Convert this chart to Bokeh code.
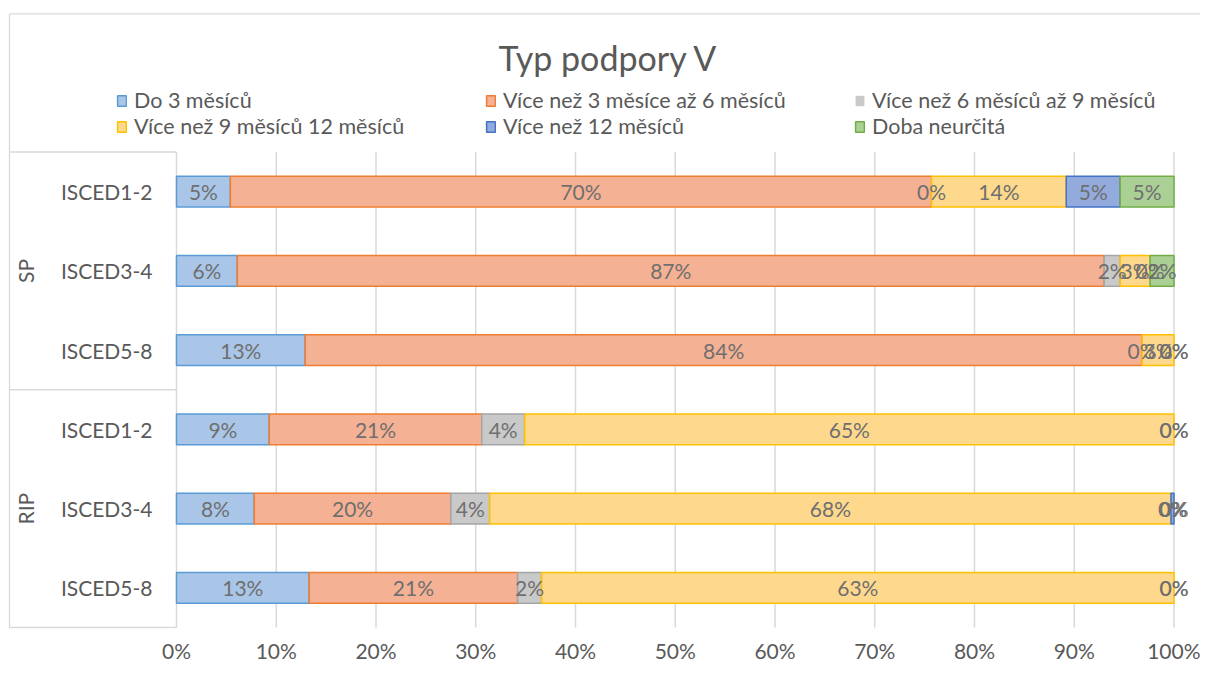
from bokeh.plotting import figure
from bokeh.models import Range1d, FixedTicker, Legend, LegendItem, ColumnDataSource, Label
from bokeh.core.properties import value
from bokeh.embed import file_html
from bokeh.resources import INLINE
import math

# ---------------- data ----------------
chart_title = "Typ podpory V"
groups = ["SP", "SP", "SP", "RIP", "RIP", "RIP"]
levels = ["ISCED1-2", "ISCED3-4", "ISCED5-8", "ISCED1-2", "ISCED3-4", "ISCED5-8"]
series_names = [
    "Do 3 měsíců",
    "Více než 3 měsíce až 6 měsíců",
    "Více než 6 měsíců až 9 měsíců",
    "Více než 9 měsíců 12 měsíců",
    "Více než 12 měsíců",
    "Doba neurčitá",
]
do_3 = [5.4, 6.1, 12.9, 9.3, 7.8, 13.3]
m3_6 = [70.3, 86.9, 83.9, 21.3, 19.7, 20.9]
m6_9 = [0.0, 1.6, 0.0, 4.3, 3.9, 2.4]
m9_12 = [13.5, 3.0, 3.2, 65.1, 68.3, 63.4]
nad_12 = [5.4, 0.0, 0.0, 0.0, 0.3, 0.0]
neurcita = [5.4, 2.4, 0.0, 0.0, 0.0, 0.0]
x_ticks = [0, 10, 20, 30, 40, 50, 60, 70, 80, 90, 100]
x_tick_labels = ["0%", "10%", "20%", "30%", "40%", "50%", "60%", "70%", "80%", "90%", "100%"]

series_values = [do_3, m3_6, m6_9, m9_12, nad_12, neurcita]

# ---------------- style ----------------
FONT = "Lato"
TXT = "#595959"
LBL = "#6f6f6f"
GRID = "#d9d9d9"
fills = ["#a9c6e8", "#f5b193", "#c9c9c9", "#fed88c", "#93aadc", "#abd096"]
lines = ["#5b9bd5", "#ed7d31", "#a5a5a5", "#ffc000", "#4472c4", "#70ad47"]

W, H = 1200, 665
BOTTOM = 35
FRAME_BOTTOM = H - BOTTOM

# pixel geometry helpers (layout only)
PX0, PXU = 176.0, 9.975
PY0, PYU = 629.0, 79.5
def dx(px):
    return (px - PX0) / PXU
def dy(py):
    return (PY0 - py) / PYU

n_rows = len(levels)
ys = [n_rows - 0.5 - i for i in range(n_rows)]

p = figure(width=W, height=H, output_backend="svg", toolbar_location=None,
           x_range=Range1d(dx(0), dx(W)), y_range=Range1d(dy(FRAME_BOTTOM), dy(0)),
           y_axis_location=None,
           min_border_left=0, min_border_right=0, min_border_top=0, min_border_bottom=BOTTOM)
p.outline_line_color = None
p.xgrid.visible = False
p.ygrid.visible = False
p.background_fill_color = "white"
p.border_fill_color = "white"

# x axis
ax = p.xaxis[0]
ax.ticker = FixedTicker(ticks=x_ticks)
ax.major_label_overrides = {t: l for t, l in zip(x_ticks, x_tick_labels)}
ax.axis_line_color = None
ax.major_tick_line_color = None
ax.minor_tick_line_color = None
ax.major_tick_out = 0
ax.major_tick_in = 0
ax.major_label_standoff = 9
ax.major_label_text_font = FONT
ax.major_label_text_font_size = "21px"
ax.major_label_text_color = TXT

# grid lines (value axis)
p.segment(x0=x_ticks, x1=x_ticks, y0=[0] * len(x_ticks), y1=[n_rows] * len(x_ticks),
          line_color=GRID, line_width=1.5)

# category box lines
xl = dx(9)
p.segment(x0=[xl] * 3, x1=[0] * 3, y0=[0, n_rows / 2, n_rows], y1=[0, n_rows / 2, n_rows],
          line_color=GRID, line_width=1.5)
# outer chart border (left / top)
p.segment(x0=[xl, xl], x1=[xl, dx(W + 5)], y0=[dy(H + 5), dy(13.5)], y1=[dy(13.5), dy(13.5)],
          line_color=GRID, line_width=1.3)

# stacked bars
left = [0.0] * n_rows
renderers = []
label_x, label_y, label_t = [], [], []
for k, vals in enumerate(series_values):
    right = [l + v for l, v in zip(left, vals)]
    src = ColumnDataSource(dict(y=ys, left=left, right=right,
                                la=[1.0 if v > 0 else 0.0 for v in vals]))
    r = p.hbar(y="y", left="left", right="right", height=0.39, source=src,
               fill_color=fills[k], line_color=lines[k], line_width=1.5, line_alpha="la")
    renderers.append(r)
    for i, v in enumerate(vals):
        label_x.append(left[i] + v / 2)
        label_y.append(ys[i])
        label_t.append(f"{round(v)}%")
    left = right

p.text(x=label_x, y=label_y, text=label_t, text_align="center", text_baseline="middle",
       text_font=value(FONT), text_font_size="21px", text_color=LBL)

# category labels
p.text(x=[dx(152)] * n_rows, y=ys, text=levels, text_align="right", text_baseline="middle",
       text_font=value(FONT), text_font_size="21px", text_color=TXT)
uniq = []
for g in groups:
    if g not in uniq:
        uniq.append(g)
gy = [sum(y for y, g in zip(ys, groups) if g == u) / groups.count(u) for u in uniq]
p.text(x=[dx(25)] * len(uniq), y=gy, text=uniq, angle=math.pi / 2, text_align="center",
       text_baseline="middle", text_font=value(FONT), text_font_size="21px", text_color=TXT)

# legend
legend = Legend(items=[LegendItem(label=s, renderers=[r]) for s, r in zip(series_names, renderers)],
                location=(116, FRAME_BOTTOM - 141), orientation="horizontal", ncols=3,
                glyph_width=11, glyph_height=13, label_standoff=7, label_width=351,
                spacing=0, padding=0, margin=0, border_line_color=None,
                background_fill_alpha=0, label_text_font=FONT, label_text_font_size="21.5px",
                label_text_color=TXT)
p.add_layout(legend, "center")

# title
p.add_layout(Label(x=608, y=FRAME_BOTTOM - 59, x_units="screen", y_units="screen", text=chart_title,
                   text_align="center", text_baseline="middle", text_font=FONT,
                   text_font_size="34px", text_color=TXT))

open("out.html", "w").write(file_html(p, INLINE))
